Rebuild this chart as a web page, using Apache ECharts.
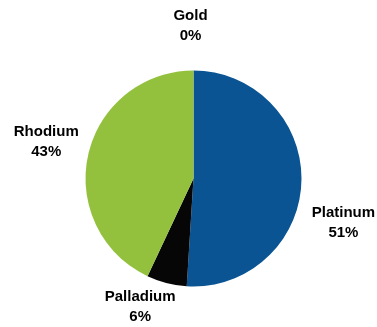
<!DOCTYPE html>
<html>
<head>
<meta charset="utf-8">
<script src="https://cdn.jsdelivr.net/npm/echarts@6/dist/echarts.min.js"></script>
<style>
  html, body { margin: 0; padding: 0; background: #fff; }
  #chart { width: 377px; height: 327px; }
</style>
</head>
<body>
<div id="chart"></div>
<script>
const metals = ['Platinum', 'Palladium', 'Rhodium', 'Gold'];
const shares = [51, 6, 43, 0];
const colors = ['#0a5493', '#060606', '#93c13e', '#d9b23a'];

// label nudges from where echarts puts outside labels
const nudge = [[31, 41], [-20, 18], [-31, -12], [2, -39]];

const chart = echarts.init(document.getElementById('chart'));
chart.setOption({
    animation: false,
    backgroundColor: '#ffffff',
    series: [
        {
            type: 'pie',
            center: [193.5, 178.5],
            radius: 108,
            startAngle: 90,
            clockwise: true,
            avoidLabelOverlap: false,
            data: metals.map((name, i) => ({
                name: name,
                value: shares[i],
                itemStyle: { color: colors[i] },
            })),
            itemStyle: { borderWidth: 0 },
            label: {
                show: true,
                position: 'outside',
                formatter: '{b}\n{d}%',
                fontFamily: 'Liberation Sans, Arial, sans-serif',
                fontWeight: 'bold',
                fontSize: 15,
                lineHeight: 20,
                color: '#000',
            },
            labelLine: { show: false, length: 6, length2: 0 },
            labelLayout: (params) => ({
                align: 'center',
                dx: nudge[params.dataIndex][0],
                dy: nudge[params.dataIndex][1],
            }),
            emphasis: { disabled: true },
        },
    ],
});
</script>
</body>
</html>
